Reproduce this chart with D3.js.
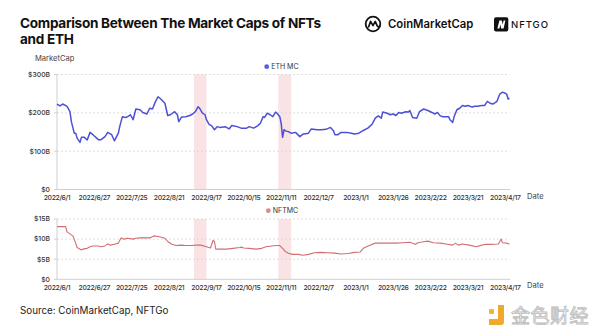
<!DOCTYPE html>
<html>
<head>
<meta charset="utf-8">
<script src="https://cdn.jsdelivr.net/npm/d3@7"></script>
<style>
  body { margin: 0; background: #fff; }
  svg { display: block; font-family: Inter, "Noto Sans", sans-serif; }
</style>
</head>
<body>
<svg id="chart" width="600" height="335"></svg>
<script>
"use strict";

// x axis labels (category-style spacing, evenly placed)
const tickDates = ["2022-06-01", "2022-06-27", "2022-07-25", "2022-08-21", "2022-09-17",
    "2022-10-15", "2022-11-11", "2022-12-07", "2023-01-01", "2023-01-26",
    "2023-02-22", "2023-03-21", "2023-04-17"];

// ETH market cap, $B
const ethMC = [
    ["2022-06-01", 223], ["2022-06-03", 218], ["2022-06-05", 223], ["2022-06-08", 217],
    ["2022-06-10", 203], ["2022-06-11", 177], ["2022-06-13", 147], ["2022-06-14", 147],
    ["2022-06-15", 134], ["2022-06-17", 123], ["2022-06-18", 136], ["2022-06-20", 136],
    ["2022-06-22", 129], ["2022-06-24", 149], ["2022-06-26", 143], ["2022-06-30", 130],
    ["2022-07-02", 130], ["2022-07-05", 138], ["2022-07-07", 149], ["2022-07-10", 143],
    ["2022-07-12", 127], ["2022-07-15", 147], ["2022-07-16", 164], ["2022-07-18", 190],
    ["2022-07-20", 188], ["2022-07-22", 190], ["2022-07-24", 195], ["2022-07-26", 182],
    ["2022-07-28", 210], ["2022-07-31", 208], ["2022-08-02", 201], ["2022-08-05", 197],
    ["2022-08-07", 212], ["2022-08-09", 210], ["2022-08-11", 228], ["2022-08-13", 242],
    ["2022-08-15", 236], ["2022-08-18", 225], ["2022-08-20", 193], ["2022-08-22", 195],
    ["2022-08-25", 203], ["2022-08-27", 195], ["2022-08-28", 177], ["2022-08-30", 189],
    ["2022-09-02", 190], ["2022-09-05", 193], ["2022-09-07", 197], ["2022-09-09", 203],
    ["2022-09-11", 216], ["2022-09-12", 212], ["2022-09-14", 200], ["2022-09-16", 195],
    ["2022-09-17", 182], ["2022-09-19", 170], ["2022-09-21", 166], ["2022-09-23", 156],
    ["2022-09-25", 164], ["2022-09-27", 162], ["2022-10-01", 164], ["2022-10-04", 158],
    ["2022-10-06", 167], ["2022-10-10", 164], ["2022-10-13", 160], ["2022-10-17", 160],
    ["2022-10-19", 164], ["2022-10-22", 160], ["2022-10-25", 166], ["2022-10-27", 173],
    ["2022-10-29", 190], ["2022-10-30", 188], ["2022-11-01", 199], ["2022-11-03", 195],
    ["2022-11-05", 190], ["2022-11-07", 202], ["2022-11-08", 199], ["2022-11-10", 190],
    ["2022-11-11", 173], ["2022-11-12", 136], ["2022-11-13", 156], ["2022-11-14", 153],
    ["2022-11-16", 151], ["2022-11-18", 147], ["2022-11-21", 149], ["2022-11-24", 138],
    ["2022-11-26", 144], ["2022-11-30", 147], ["2022-12-02", 158], ["2022-12-06", 156],
    ["2022-12-09", 156], ["2022-12-12", 157], ["2022-12-15", 162], ["2022-12-17", 153],
    ["2022-12-18", 143], ["2022-12-20", 143], ["2022-12-22", 149], ["2022-12-26", 149],
    ["2022-12-29", 147], ["2022-12-31", 145], ["2023-01-03", 147], ["2023-01-06", 154],
    ["2023-01-09", 160], ["2023-01-12", 171], ["2023-01-14", 186], ["2023-01-16", 192],
    ["2023-01-18", 186], ["2023-01-19", 202], ["2023-01-22", 199], ["2023-01-24", 195],
    ["2023-01-26", 197], ["2023-01-28", 193], ["2023-01-30", 201], ["2023-02-01", 199],
    ["2023-02-04", 203], ["2023-02-06", 202], ["2023-02-07", 206], ["2023-02-09", 188],
    ["2023-02-12", 186], ["2023-02-14", 203], ["2023-02-17", 210], ["2023-02-20", 206],
    ["2023-02-23", 201], ["2023-02-25", 197], ["2023-02-27", 201], ["2023-03-01", 192],
    ["2023-03-03", 190], ["2023-03-07", 190], ["2023-03-08", 182], ["2023-03-10", 175],
    ["2023-03-11", 190], ["2023-03-13", 208], ["2023-03-15", 212], ["2023-03-17", 219],
    ["2023-03-19", 217], ["2023-03-21", 219], ["2023-03-24", 215], ["2023-03-26", 217],
    ["2023-03-28", 217], ["2023-03-31", 219], ["2023-04-02", 219], ["2023-04-04", 230],
    ["2023-04-06", 225], ["2023-04-08", 223], ["2023-04-11", 230], ["2023-04-13", 249],
    ["2023-04-15", 254], ["2023-04-17", 251], ["2023-04-18", 249], ["2023-04-19", 236],
    ["2023-04-20", 238]
];

// NFT market cap, $B
const nftMC = [
    ["2022-06-01", 13.1], ["2022-06-07", 13.1], ["2022-06-08", 11.8], ["2022-06-10", 11.3],
    ["2022-06-12", 10.8], ["2022-06-14", 9.0], ["2022-06-15", 7.9], ["2022-06-18", 7.3],
    ["2022-06-19", 7.5], ["2022-06-22", 7.7], ["2022-06-24", 8.1], ["2022-06-26", 8.3],
    ["2022-06-30", 8.3], ["2022-07-02", 8.1], ["2022-07-05", 8.3], ["2022-07-07", 8.8],
    ["2022-07-09", 8.5], ["2022-07-12", 8.7], ["2022-07-15", 9.0], ["2022-07-17", 10.3],
    ["2022-07-19", 10.0], ["2022-07-22", 10.2], ["2022-07-26", 10.0], ["2022-07-28", 10.2],
    ["2022-07-31", 10.3], ["2022-08-03", 10.3], ["2022-08-07", 10.3], ["2022-08-10", 10.8],
    ["2022-08-14", 10.6], ["2022-08-18", 10.2], ["2022-08-20", 9.4], ["2022-08-23", 8.7],
    ["2022-08-26", 8.4], ["2022-08-30", 8.5], ["2022-09-02", 8.4], ["2022-09-06", 8.4],
    ["2022-09-10", 8.5], ["2022-09-13", 8.5], ["2022-09-17", 8.1], ["2022-09-20", 7.8],
    ["2022-09-22", 9.7], ["2022-09-23", 9.4], ["2022-09-24", 7.5], ["2022-09-27", 7.5],
    ["2022-10-02", 7.5], ["2022-10-07", 7.7], ["2022-10-12", 7.9], ["2022-10-13", 8.0],
    ["2022-10-15", 7.8], ["2022-10-19", 7.7], ["2022-10-24", 7.5], ["2022-10-28", 7.7],
    ["2022-10-31", 8.1], ["2022-11-04", 8.3], ["2022-11-08", 8.4], ["2022-11-10", 8.4],
    ["2022-11-12", 7.7], ["2022-11-14", 6.9], ["2022-11-16", 6.5], ["2022-11-19", 6.2],
    ["2022-11-23", 6.2], ["2022-11-26", 6.0], ["2022-11-30", 6.2], ["2022-12-04", 6.6],
    ["2022-12-09", 6.7], ["2022-12-13", 6.6], ["2022-12-18", 6.5], ["2022-12-22", 6.3],
    ["2022-12-27", 6.4], ["2022-12-31", 6.7], ["2023-01-04", 6.8], ["2023-01-06", 7.7],
    ["2023-01-10", 8.4], ["2023-01-14", 9.0], ["2023-01-19", 9.0], ["2023-01-24", 9.0],
    ["2023-01-28", 9.0], ["2023-02-02", 9.1], ["2023-02-07", 9.2], ["2023-02-11", 8.7],
    ["2023-02-13", 9.1], ["2023-02-18", 9.4], ["2023-02-20", 9.5], ["2023-02-24", 9.1],
    ["2023-03-01", 9.0], ["2023-03-05", 8.8], ["2023-03-10", 8.5], ["2023-03-12", 9.0],
    ["2023-03-14", 8.5], ["2023-03-17", 8.8], ["2023-03-22", 8.5], ["2023-03-27", 8.1],
    ["2023-03-31", 8.5], ["2023-04-03", 8.7], ["2023-04-08", 8.7], ["2023-04-12", 8.8],
    ["2023-04-14", 10.0], ["2023-04-15", 9.1], ["2023-04-18", 9.0], ["2023-04-20", 8.7]
];

const ethTicks = [0, 100, 200, 300];
const nftTicks = [0, 5, 10, 15];

// shaded event windows (the Merge, FTX collapse)
const shadedRanges = [["2022-09-08", "2022-09-17"], ["2022-11-09", "2022-11-18"]];

const parse = d3.timeParse("%Y-%m-%d");
const fmtTick = d3.timeFormat("%Y/%-m/%-d");

const svg = d3.select("#chart");

const xLeft = 57, xLastTick = 505.3;
const step = (xLastTick - xLeft) / (tickDates.length - 1);
const x = d3.scaleTime()
    .domain(tickDates.map(parse))
    .range(tickDates.map((d, i) => xLeft + i * step));
const xEnd = x(parse(ethMC[ethMC.length - 1][0]));

// title
const title = svg.append("text")
    .attr("x", 20).attr("y", 28)
    .style("font-size", "13.6px").style("font-weight", 700).style("letter-spacing", "-0.3px")
    .attr("fill", "#111");
title.append("tspan").attr("x", 20).text("Comparison Between The Market Caps of NFTs");
title.append("tspan").attr("x", 20).attr("dy", 16).text("and ETH");

// CoinMarketCap mark
const cmc = svg.append("g").attr("transform", "translate(373,24)");
cmc.append("circle").attr("r", 7.3).attr("fill", "none").attr("stroke", "#111").attr("stroke-width", 1.8);
cmc.append("path")
    .attr("d", "M-4.3,2.8 L-2.4,-2.6 L0,1.6 L2.2,-2.6 L4,1.4 Q5,3.6 6.8,2.2")
    .attr("fill", "none").attr("stroke", "#111").attr("stroke-width", 1.7)
    .attr("stroke-linejoin", "round").attr("stroke-linecap", "round");
svg.append("text").attr("x", 388).attr("y", 28.2)
    .style("font-size", "11.3px").style("font-weight", 600).attr("fill", "#111")
    .text("CoinMarketCap");

// NFTGO mark
svg.append("rect").attr("x", 494).attr("y", 17.3).attr("width", 14.3).attr("height", 14.3)
    .attr("rx", 2).attr("fill", "#111");
svg.append("path")
    .attr("d", "M497.4,28.6 L499.4,20.4 L501.8,20.4 L502.6,24.6 L503.6,20.4 L505.4,20.4 L503.6,28.6 L501.2,28.6 L500.4,24.6 L499.4,28.6 Z")
    .attr("fill", "#fff");
svg.append("text").attr("x", 511).attr("y", 28.2)
    .style("font-size", "9.6px").style("font-weight", 500).style("letter-spacing", "0.9px")
    .attr("fill", "#111").text("NFTGO");

svg.append("text").attr("x", 35).attr("y", 60.5)
    .style("font-size", "7.6px").attr("fill", "#444").text("MarketCap");

function drawPanel(cfg) {
    const y = d3.scaleLinear().domain(cfg.domain).range([cfg.bottom, cfg.top]);
    const g = svg.append("g");

    // event bands
    g.selectAll("rect.band").data(shadedRanges).join("rect")
        .attr("class", "band")
        .attr("x", d => x(parse(d[0])))
        .attr("width", d => x(parse(d[1])) - x(parse(d[0])))
        .attr("y", cfg.top)
        .attr("height", cfg.bottom - cfg.top)
        .attr("fill", "#f9e3e5");

    // dotted gridlines
    g.selectAll("line.grid").data(cfg.ticks.filter(t => t > 0)).join("line")
        .attr("x1", xLeft).attr("x2", xEnd)
        .attr("y1", d => y(d)).attr("y2", d => y(d))
        .attr("stroke", "#d6d6d6").attr("stroke-width", 0.8)
        .attr("stroke-dasharray", "2,2");

    // axes
    g.append("line").attr("x1", xLeft).attr("x2", xLeft)
        .attr("y1", cfg.top).attr("y2", cfg.bottom)
        .attr("stroke", "#cfcfcf").attr("stroke-width", 1);
    g.append("line").attr("x1", xLeft).attr("x2", xEnd + 0.7)
        .attr("y1", cfg.bottom).attr("y2", cfg.bottom)
        .attr("stroke", "#cfcfcf").attr("stroke-width", 1);
    g.selectAll("line.ytick").data(cfg.ticks).join("line")
        .attr("x1", xLeft - 3).attr("x2", xLeft)
        .attr("y1", d => y(d)).attr("y2", d => y(d))
        .attr("stroke", "#cfcfcf");

    g.selectAll("text.ylab").data(cfg.ticks).join("text")
        .attr("x", 50).attr("y", d => y(d)).attr("dy", "0.35em")
        .attr("text-anchor", "end")
        .style("font-size", "6.8px").style("font-weight", 500).attr("fill", "#333")
        .text(d => d === 0 ? "$0" : `$${d}B`);

    g.selectAll("text.xlab").data(tickDates).join("text")
        .attr("x", d => x(parse(d))).attr("y", cfg.bottom + 8.5).attr("dy", "0.35em")
        .attr("text-anchor", "middle")
        .style("font-size", "6.8px").style("font-weight", 500).style("letter-spacing", "-0.3px")
        .attr("fill", "#333")
        .text(d => fmtTick(parse(d)));

    g.append("text").attr("x", 527).attr("y", cfg.bottom + 6.5).attr("dy", "0.35em")
        .style("font-size", "7.6px").attr("fill", "#444").text("Date");

    // series
    const line = d3.line()
        .x(d => x(parse(d[0])))
        .y(d => y(d[1]));
    g.append("path").datum(cfg.data)
        .attr("d", line)
        .attr("fill", "none")
        .attr("stroke", cfg.color)
        .attr("stroke-width", cfg.width)
        .attr("stroke-linejoin", "round");

    // legend
    g.append("circle").attr("cx", cfg.legendX).attr("cy", cfg.legendY).attr("r", 2.4)
        .attr("fill", cfg.dot);
    g.append("text").attr("x", cfg.legendX + 4.5).attr("y", cfg.legendY).attr("dy", "0.35em")
        .style("font-size", "7px").attr("fill", "#333").text(cfg.name);
}

drawPanel({
    data: ethMC, domain: [0, 300], ticks: ethTicks,
    top: 74.5, bottom: 189.5,
    color: "#4b50d4", dot: "#5a5fe0", width: 1.5,
    name: "ETH MC", legendX: 266.7, legendY: 66.7
});

drawPanel({
    data: nftMC, domain: [0, 15], ticks: nftTicks,
    top: 219, bottom: 279.3,
    color: "#cf6f72", dot: "#d98c90", width: 1.1,
    name: "NFTMC", legendX: 268.3, legendY: 210.7
});

svg.append("text").attr("x", 20).attr("y", 313.5)
    .style("font-size", "9.8px").attr("fill", "#222")
    .text("Source: CoinMarketCap, NFTGo");

// 金色财经 watermark
const wm = svg.append("g").attr("transform", "translate(489,305)");
wm.append("rect").attr("x", 0).attr("y", 4).attr("width", 5).attr("height", 5).attr("rx", 1).attr("fill", "#f2b53a");
wm.append("path").attr("d", "M9,0 h6 v17 a3,3 0 0 1 -3,3 h-12 v-6 h9 Z").attr("fill", "#f0a92a");
svg.append("text").attr("x", 511).attr("y", 323)
    .style("font-family", "'Noto Sans CJK SC', sans-serif")
    .style("font-size", "19px").attr("fill", "#fff")
    .attr("stroke", "#bdbdbd").attr("stroke-width", 0.9)
    .style("letter-spacing", "0.5px")
    .text("金色财经");
</script>
</body>
</html>
